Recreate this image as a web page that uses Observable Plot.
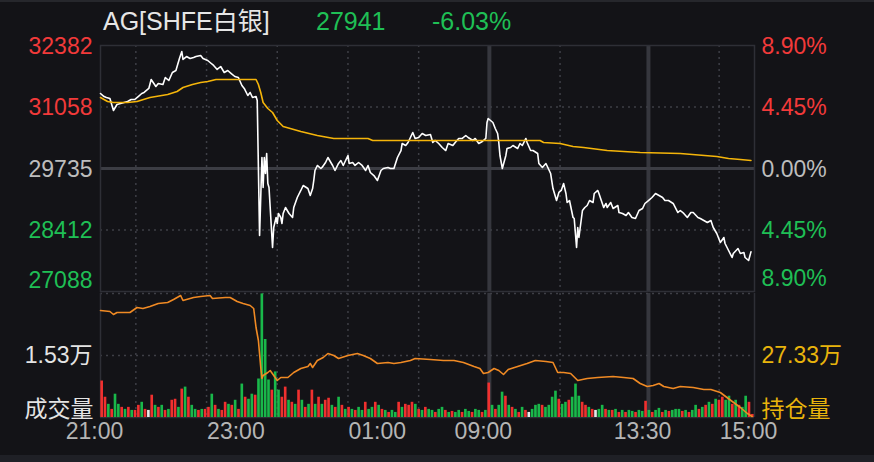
<!DOCTYPE html>
<html><head><meta charset="utf-8">
<script src="https://cdn.jsdelivr.net/npm/d3@7"></script>
<script src="https://cdn.jsdelivr.net/npm/@observablehq/plot@0.6"></script>
<style>
html,body{margin:0;padding:0;background:#131317;}
#wrap{position:relative;width:874px;height:462px;background:#131317;overflow:hidden;font-family:"Liberation Sans",Arial,"Noto Sans CJK SC",sans-serif;}
#wrap svg{position:absolute;left:0;top:0;}
.title{position:absolute;top:6px;font-size:25px;line-height:30px;white-space:nowrap;}
</style></head><body>
<div id="wrap">
  <div style="position:absolute;left:0;top:0;width:874px;height:2px;background:#26272c"></div>
  <div style="position:absolute;left:0;top:455px;width:874px;height:7px;background:#1f2026"></div>
  <div class="title" id="t1" style="left:103px;color:#e6e6e6"></div>
  <div class="title" id="t2" style="left:316px;color:#1fbf55"></div>
  <div class="title" id="t3" style="left:432px;color:#1fbf55"></div>
</div>
<script>
// ---- header ----
const titleName = "AG[SHFE白银]";
const lastPrice = "27941";
const changePct = "-6.03%";

// ---- axis labels ----
const priceTicks = [32382, 31058, 29735, 28412, 27088];
const pctLabels = ["8.90%", "4.45%", "0.00%", "4.45%", "8.90%"];
const tickSide = ["up", "up", "flat", "down", "down"];
const timeTicks = [0, 120, 240, 330, 465, 555];          // trading-minute index
const timeLabels = ["21:00", "23:00", "01:00", "09:00", "13:30", "15:00"];
const gridDotted = [30, 90, 150, 210, 270, 390, 525];
const gridSolid = [330, 465];
const prevSettle = 29735;
const volMid = 15300, volMidLabel = "1.53万", volName = "成交量";
const oiMid = 273300, oiMidLabel = "27.33万", oiName = "持仓量";

// ---- price line (trading minute, price) ----
const priceT = [0,3,5,8,11,14,17,20,23,26,29,32,35,37,41,43,47,49,53,55,58,61,64,67,69,70,73,76,79,81,85,87,91,93,96,99,102,105,108,111,114,117,120,122,125,127,129,132,133,135,137,138,139,140,141,142,143,146,147,149,150,151,153,154,155,157,160,163,164,167,170,172,176,178,180,181,182,184,187,188,191,193,197,199,202,204,206,210,211,214,216,219,222,225,227,229,232,235,238,240,244,246,249,252,255,256,259,261,263,265,267,270,273,276,280,282,284,287,290,293,295,299,301,304,307,310,312,316,318,321,324,327,328,329,333,335,337,338,339,341,344,345,348,350,354,356,358,361,362,365,367,371,372,375,378,380,382,384,387,389,391,393,395,396,398,401,402,404,405,406,409,411,413,415,418,419,422,423,425,427,429,430,433,435,439,440,443,446,448,451,454,457,460,462,465,468,471,474,477,479,482,486,490,492,495,498,501,503,507,509,512,515,518,520,523,526,529,530,533,536,537,541,543,546,547,550,552];
const priceV = [31349,31284,31263,31241,30983,31112,31134,31155,31177,31220,31220,31284,31349,31371,31457,31650,31500,31564,31543,31693,31629,31801,31844,32102,32253,32081,32145,32102,32124,32145,32167,32102,32059,32016,31952,31866,31930,31801,31844,31779,31715,31693,31521,31457,31306,31371,31263,31284,31198,28293,29972,29326,29972,29627,30058,29412,29326,28035,28465,28681,28551,28767,28681,28551,28767,28896,28767,28681,28896,29111,29262,29369,29304,29154,29304,29477,29692,29800,29735,29757,29864,29972,29800,29692,29843,29907,29800,30015,29843,29864,29800,29864,29800,29692,29800,29649,29584,29477,29692,29735,29757,29735,29735,29972,30122,30273,30230,30295,30402,30510,30381,30402,30488,30445,30467,30295,30338,30273,30187,30122,30273,30230,30295,30381,30381,30445,30402,30338,30381,30273,30316,30381,30725,30811,30725,30596,30488,30295,30015,29735,30015,30166,30187,30230,30166,30273,30230,30381,30295,30122,30122,30058,29843,29757,29843,29735,29627,29304,29046,29219,29262,29412,29197,29003,29046,28681,28659,28035,28465,28250,28831,28896,28939,29046,29003,29197,29262,29197,29046,28896,28982,28896,29003,28874,28939,28788,28767,28724,28788,28681,28659,28831,28874,28982,29046,29111,29197,29154,29111,29046,29046,28982,28788,28831,28767,28681,28788,28788,28681,28659,28616,28573,28616,28465,28336,28143,28250,28121,27970,27820,27906,28013,27906,27927,27820,27755,27941];

// ---- average price line ----
const avgT = [0,6,11,23,31,42,57,65,70,78,85,91,98,119,132,134,136,138,142,146,150,155,161,170,184,198,227,231,246,373,376,390,401,410,430,458,492,523,533,543,552];
const avgV = [31263,31177,31155,31155,31177,31263,31328,31392,31478,31543,31586,31607,31650,31650,31650,31543,31371,31155,31026,30940,30768,30639,30596,30531,30445,30381,30381,30338,30338,30338,30295,30273,30209,30187,30122,30079,30058,29993,29950,29929,29907];

// ---- open interest ----
const oiT = [0,8,11,14,25,31,36,42,49,57,62,68,70,79,85,93,95,106,110,116,121,127,130,132,134,136,137,138,142,144,147,150,153,159,164,170,176,178,180,184,189,193,198,202,210,218,223,229,235,244,249,255,263,267,280,291,300,308,317,322,325,329,334,338,342,346,354,362,369,378,384,388,393,399,405,413,422,435,444,452,458,464,469,474,478,486,492,503,512,518,526,535,543,549,553];
const oiV = [277800,277700,277400,277600,277600,278100,278000,278200,278500,278600,278900,279300,278800,279100,279200,279300,279000,279100,279100,278700,278500,278300,278000,276100,274800,272100,271000,271300,271600,271800,271300,270800,271100,271100,271600,272000,272200,272500,272100,272800,273100,273500,273300,273000,273300,273500,273300,273000,272500,272600,272500,272600,272800,273000,272900,272800,272800,272600,272200,272000,271500,271600,272000,271800,271400,271900,272200,272500,272800,272700,272600,271600,271600,271500,270800,271000,271100,271200,271100,271000,270500,270200,270300,270500,270200,270000,270200,270100,269900,269900,269600,268800,268100,267500,267200];

// ---- volume (196 equal bins across the session) ----
const volume = [9000,5000,3250,2000,5750,3250,2500,2000,2500,1750,1750,3000,3750,2000,1750,5500,3000,2500,3000,1750,2000,4250,4500,2500,7000,7500,5000,3000,2000,1750,2000,2000,2500,5750,3000,2000,1750,3750,3250,3000,4250,2000,8250,5000,4500,5750,5500,9500,30500,19250,9250,6750,11250,6750,5000,7500,4250,3750,3250,6750,4250,2500,3250,6750,3250,5000,3250,4250,4750,3000,2500,5000,3000,2000,2500,2000,1750,2500,1750,3750,2000,2500,3750,3000,2000,1750,1250,1750,1250,3750,2500,3250,3000,3750,3250,2000,1750,2500,2000,1750,1250,2000,2500,1750,1250,1500,1250,1750,1250,2000,1500,1250,2000,1750,1250,1750,8500,3000,2000,3000,6250,5250,3000,2500,2000,1250,2500,1750,1250,2000,3000,3250,3000,2500,3000,5000,6500,4500,3250,3750,4250,5000,8250,5250,3750,3000,2500,2000,1750,2000,3000,2000,1750,1750,2000,1250,1750,1250,1750,1500,1250,1750,1500,4000,1750,1250,1750,2250,1250,1750,1500,1750,2000,2000,1500,1750,1250,1750,3000,2000,2500,3000,3750,3250,4500,4250,5000,4250,5250,3250,4250,3000,2500,5250,3750,750];
const volDir = "rrgrggrgrg"+"rrgrwrgrgr"+"grrgrgrggr"+"grrgrgrrgr"+"grgrggrggg"+"grggrrgrgr"+"grgrgrgrrg"+"rgrgrgrggr"+"ggrgrgrggr"+"grrrgrgrgg"+"rggrgrggrg"+"grggrgrgrg"+"grgrgrgrwg"+"ggrggggrgg"+"rgggrrgrwg"+"grgrgrgrgg"+"rggrgrggrg"+"rgggrgrggr"+"grgrgrrggr"+"grggrr";

// ---- styling ----
const RED = "#f23a3a", GREEN = "#1fbf55", GRAY = "#bdbdbd", TXT = "#e4e4e4", YEL = "#e8b40c";
const sideColor = {up: RED, down: GREEN, flat: GRAY};
const barColor = {r: "#f0302f", g: "#19b84a", w: "#e8e8e8"};
const GRID = "#3e3f46", BORDER = "#2e2f36";
const FONT = '"Liberation Sans", Arial, "Noto Sans CJK SC", sans-serif';

document.getElementById("t1").textContent = titleName;
document.getElementById("t2").textContent = lastPrice;
document.getElementById("t3").textContent = changePct;

const W = 874, H = 462, TOTAL = 555;
const priceData = priceT.map((t, i) => ({t, v: priceV[i]}));
const avgData = avgT.map((t, i) => ({t, v: avgV[i]}));
const oiData = oiT.map((t, i) => ({t, v: oiV[i]}));
const BIN = TOTAL / volume.length;
const volData = volume.map((v, i) => ({i, v, d: volDir[i]}));
const tickData = priceTicks.map((v, i) => ({v, pct: pctLabels[i], c: sideColor[tickSide[i]]}));

const common = {
  width: W, height: H, marginLeft: 100, marginRight: 120,
  x: {domain: [0, TOTAL], axis: null},
  color: {type: "identity"},
  style: {background: "transparent", fontFamily: FONT, overflow: "visible"}
};
const vGrid = [
  Plot.ruleX(gridDotted, {stroke: GRID, strokeDasharray: "2,4", strokeWidth: 1.5}),
  Plot.ruleX(gridSolid, {stroke: "#36373e", strokeWidth: 4})
];

// ---- price panel ----
const pricePlot = Plot.plot({
  ...common,
  marginTop: 45, marginBottom: H - 291,
  y: {domain: [27088, 32382], axis: null},
  marks: [
    ...vGrid,
    Plot.ruleY([priceTicks[1], priceTicks[3]], {stroke: GRID, strokeDasharray: "2,4", strokeWidth: 1.5}),
    Plot.ruleY([prevSettle], {stroke: "#3c3d44", strokeWidth: 3}),
    Plot.frame({stroke: BORDER, strokeWidth: 1.5}),
    Plot.line(priceData, {x: "t", y: "v", stroke: "#ffffff", strokeWidth: 1.6}),
    Plot.line(avgData, {x: "t", y: "v", stroke: "#f5b50a", strokeWidth: 1.6}),
    Plot.text(tickData.slice(0, 4), {frameAnchor: "left", y: "v", text: d => String(d.v), fill: "c", textAnchor: "end", dx: -8, dy: 1, fontSize: 23}),
    Plot.text(tickData.slice(4), {frameAnchor: "left", y: "v", text: d => String(d.v), fill: "c", textAnchor: "end", dx: -8, dy: -11, fontSize: 23}),
    Plot.text(tickData.slice(0, 4), {frameAnchor: "right", y: "v", text: "pct", fill: "c", textAnchor: "start", dx: 7, dy: 1, fontSize: 23}),
    Plot.text(tickData.slice(4), {frameAnchor: "right", y: "v", text: "pct", fill: "c", textAnchor: "start", dx: 7, dy: -13, fontSize: 23})
  ]
});

// ---- volume panel ----
const volPlot = Plot.plot({
  ...common,
  marginTop: 293, marginBottom: H - 417,
  y: {domain: [0, 30600], axis: null},
  marks: [
    ...vGrid,
    Plot.ruleY([volMid, 30600], {stroke: GRID, strokeDasharray: "2,4", strokeWidth: 1.5}),
    Plot.ruleY([0], {stroke: BORDER, strokeWidth: 1.5}),
    Plot.ruleX([0, TOTAL], {stroke: BORDER, strokeWidth: 1.5}),
    Plot.rectY(volData, {x1: d => d.i * BIN, x2: d => (d.i + 1) * BIN, y: "v", fill: d => barColor[d.d], insetLeft: 0.35, insetRight: 0.35}),
    Plot.text([volMid], {frameAnchor: "left", y: d => d, text: () => volMidLabel, fill: TXT, textAnchor: "end", dx: -8, fontSize: 23}),
    Plot.text([0], {frameAnchor: "left", y: d => d, text: () => volName, fill: TXT, textAnchor: "end", dx: -7, dy: -8, fontSize: 23}),
    Plot.text(timeTicks, {x: d => d, text: (d, i) => timeLabels[i], frameAnchor: "bottom", dy: 21, dx: -6, fill: "#b5b5b5", fontSize: 23})
  ]
});

// ---- open interest overlay ----
const oiPlot = Plot.plot({
  ...common,
  marginTop: 293, marginBottom: H - 417,
  y: {domain: [267100, 279500], axis: null},
  marks: [
    Plot.line(oiData, {x: "t", y: "v", stroke: "#f08a24", strokeWidth: 1.6}),
    Plot.text([oiMid], {frameAnchor: "right", y: d => d, text: () => oiMidLabel, fill: YEL, textAnchor: "start", dx: 7, fontSize: 23}),
    Plot.text([267100], {frameAnchor: "right", y: d => d, text: () => oiName, fill: YEL, textAnchor: "start", dx: 7, dy: -8, fontSize: 23})
  ]
});

const wrap = document.getElementById("wrap");
wrap.appendChild(pricePlot);
wrap.appendChild(volPlot);
wrap.appendChild(oiPlot);
</script>
</body></html>
